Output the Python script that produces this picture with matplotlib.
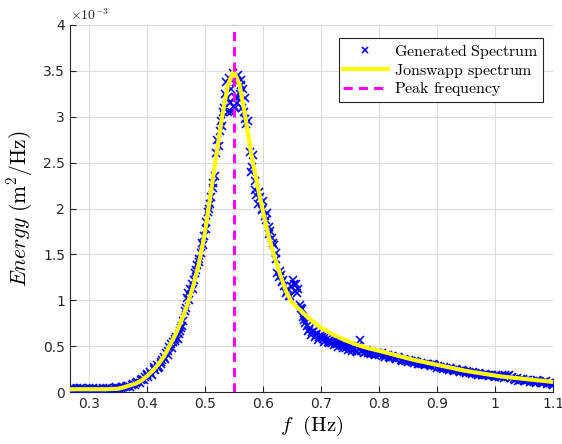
import matplotlib
matplotlib.use("Agg")
import matplotlib.pyplot as plt
from matplotlib.ticker import FuncFormatter, MultipleLocator
import numpy as np

plt.rcParams['mathtext.fontset'] = 'cm'
plt.rcParams['font.family'] = 'DejaVu Sans'

# Jonswap curve (energy in 1e-3 m^2/Hz)
curve_f = [0.268, 0.30, 0.33, 0.35, 0.36, 0.37, 0.38, 0.39, 0.40, 0.41, 0.42, 0.43,
           0.44, 0.45, 0.46, 0.47, 0.48, 0.49, 0.50, 0.51, 0.52, 0.53, 0.54, 0.55,
           0.56, 0.57, 0.58, 0.59, 0.60, 0.61, 0.62, 0.63, 0.64, 0.65, 0.66, 0.67,
           0.68, 0.70, 0.72, 0.74, 0.76, 0.78, 0.80, 0.83, 0.86, 0.89, 0.92, 0.95,
           0.98, 1.01, 1.04, 1.07, 1.10]
curve_E = [0.03, 0.03, 0.03, 0.035, 0.05, 0.07, 0.09, 0.12, 0.17, 0.23, 0.30, 0.39,
           0.51, 0.63, 0.78, 0.95, 1.15, 1.40, 1.72, 2.15, 2.58, 3.00, 3.35, 3.50,
           3.35, 3.00, 2.60, 2.28, 1.98, 1.70, 1.48, 1.28, 1.10, 0.98, 0.92, 0.86,
           0.80, 0.70, 0.63, 0.57, 0.52, 0.48, 0.45, 0.40, 0.35, 0.31, 0.27, 0.23,
           0.20, 0.17, 0.15, 0.13, 0.11]

# generated spectrum samples (two interleaved passes)
gen_f = [0.270, 0.275, 0.280, 0.285, 0.290, 0.295, 0.300, 0.305, 0.310, 0.315,
         0.320, 0.325, 0.330, 0.335, 0.340, 0.345, 0.350, 0.355, 0.360,
         0.364, 0.368, 0.372, 0.376, 0.380, 0.384, 0.388, 0.392, 0.396, 0.400,
         0.403, 0.406, 0.409, 0.412, 0.415, 0.418, 0.421, 0.424, 0.427, 0.430,
         0.433, 0.436, 0.439, 0.442, 0.445, 0.448, 0.451, 0.454, 0.457, 0.460,
         0.463, 0.466, 0.469, 0.472, 0.475, 0.478, 0.481, 0.484, 0.487, 0.490,
         0.493, 0.496, 0.499, 0.502, 0.505, 0.508, 0.511, 0.514, 0.517,
         0.520, 0.522, 0.524, 0.526, 0.528, 0.530, 0.532, 0.534, 0.536, 0.538,
         0.540, 0.542, 0.544, 0.546, 0.548, 0.550, 0.552, 0.554, 0.556, 0.558,
         0.560, 0.562, 0.564, 0.566, 0.568, 0.570, 0.572, 0.575, 0.578, 0.580,
         0.583, 0.586, 0.589, 0.592, 0.595, 0.598, 0.601, 0.604, 0.607, 0.610,
         0.613, 0.616, 0.619, 0.622, 0.625, 0.628, 0.631, 0.634, 0.637, 0.640,
         0.643, 0.646, 0.649, 0.652, 0.655, 0.658, 0.661, 0.664, 0.667, 0.670,
         0.673, 0.676, 0.679, 0.682, 0.685, 0.688, 0.691, 0.694, 0.697, 0.700,
         0.704, 0.708, 0.712, 0.716, 0.720, 0.724, 0.728, 0.732, 0.736, 0.740,
         0.744, 0.748, 0.752, 0.756, 0.760, 0.764, 0.768, 0.772, 0.776, 0.780,
         0.784, 0.788, 0.792, 0.796, 0.800, 0.805, 0.810, 0.815, 0.820, 0.825,
         0.830, 0.835, 0.840, 0.845, 0.850, 0.855, 0.860, 0.865, 0.870, 0.875,
         0.880, 0.885, 0.890, 0.895, 0.900, 0.905, 0.910, 0.915, 0.920, 0.925,
         0.930, 0.935, 0.940, 0.945, 0.950, 0.955, 0.960, 0.965, 0.970, 0.975,
         0.980, 0.985, 0.990, 0.995, 1.000, 1.005, 1.010, 1.015, 1.020, 1.025,
         1.030, 1.035, 1.040, 1.045, 1.050, 1.055, 1.060, 1.065, 1.070, 1.075,
         1.080, 1.085, 1.090, 1.095, 1.100]
gen_E = [0.03, 0.02, 0.04, 0.03, 0.02, 0.03, 0.04, 0.03, 0.02, 0.03,
         0.03, 0.04, 0.03, 0.02, 0.03, 0.04, 0.03, 0.04, 0.05,
         0.05, 0.07, 0.06, 0.09, 0.08, 0.11, 0.10, 0.14, 0.13, 0.18,
         0.16, 0.22, 0.19, 0.25, 0.24, 0.29, 0.27, 0.33, 0.35, 0.38,
         0.42, 0.40, 0.49, 0.52, 0.55, 0.58, 0.60, 0.58, 0.66, 0.70,
         0.77, 0.88, 1.02, 1.08, 1.12, 1.18, 1.22, 1.30, 1.38, 1.45,
         1.52, 1.62, 1.70, 1.78, 1.96, 2.00, 2.12, 2.22, 2.35,
         2.60, 2.75, 2.68, 2.85, 2.95, 2.90, 3.05, 3.10, 3.38, 3.20,
         3.05, 3.42, 3.15, 3.30, 3.48, 3.12, 3.22, 3.38, 3.15, 3.45,
         3.25, 3.40, 3.10, 3.30, 3.05, 3.20, 2.92, 2.95, 2.62, 2.40,
         2.58, 2.30, 2.15, 2.05, 2.12, 1.98, 2.08, 1.92, 1.95, 1.80,
         1.75, 1.68, 1.60, 1.52, 1.30, 1.25, 1.28, 1.20, 1.15, 1.08,
         1.12, 1.05, 1.15, 1.22, 1.10, 1.18, 1.12, 0.95, 0.90, 0.82,
         0.75, 0.72, 0.68, 0.70, 0.65, 0.67, 0.62, 0.64, 0.60, 0.62,
         0.58, 0.60, 0.55, 0.57, 0.53, 0.56, 0.52, 0.54, 0.50, 0.52,
         0.48, 0.50, 0.47, 0.48, 0.45, 0.50, 0.57, 0.46, 0.44, 0.45,
         0.42, 0.44, 0.41, 0.43, 0.40, 0.42, 0.38, 0.40, 0.37, 0.38,
         0.36, 0.37, 0.34, 0.35, 0.33, 0.34, 0.32, 0.33, 0.30, 0.31,
         0.29, 0.30, 0.28, 0.29, 0.26, 0.27, 0.25, 0.26, 0.24, 0.25,
         0.23, 0.24, 0.22, 0.23, 0.21, 0.22, 0.20, 0.21, 0.19, 0.20,
         0.18, 0.19, 0.17, 0.18, 0.16, 0.17, 0.16, 0.15, 0.17, 0.18,
         0.16, 0.13, 0.12, 0.14, 0.12, 0.13, 0.11, 0.12, 0.10, 0.12,
         0.10, 0.11, 0.09, 0.10, 0.08]

gen_f2 = [0.2725, 0.2775, 0.2825, 0.2875, 0.2925, 0.2975, 0.3025, 0.3075, 0.3125,
          0.3175, 0.3225, 0.3275, 0.3325, 0.3375, 0.3425, 0.3475, 0.3525, 0.3575,
          0.366, 0.374, 0.382, 0.390, 0.398, 0.401, 0.407, 0.413, 0.419, 0.425,
          0.431, 0.437, 0.443, 0.449, 0.455, 0.461, 0.467, 0.473, 0.479, 0.485,
          0.491, 0.497, 0.503, 0.509, 0.515,
          0.535, 0.545, 0.553, 0.557, 0.563, 0.569,
          0.5815, 0.5875, 0.5935, 0.5995, 0.6055, 0.6115, 0.6175, 0.6235, 0.6295,
          0.6355, 0.6415, 0.6475, 0.6535, 0.6595, 0.6655, 0.6715, 0.6775, 0.6835,
          0.6895, 0.6955, 0.702, 0.706, 0.710, 0.714, 0.718, 0.722, 0.726, 0.730,
          0.734, 0.738, 0.742, 0.746, 0.750, 0.754, 0.758, 0.762, 0.770, 0.774,
          0.778, 0.782, 0.786, 0.790, 0.794, 0.798,
          0.8025, 0.8075, 0.8125, 0.8175, 0.8225, 0.8275, 0.8325, 0.8375, 0.8425,
          0.8475, 0.8525, 0.8575, 0.8625, 0.8675, 0.8725, 0.8775, 0.8825, 0.8875,
          0.8925, 0.8975, 0.9025, 0.9075, 0.9125, 0.9175, 0.9225, 0.9275, 0.9325,
          0.9375, 0.9425, 0.9475, 0.9525, 0.9575, 0.9625, 0.9675, 0.9725, 0.9775,
          0.9825, 0.9875, 0.9925, 0.9975, 1.0025, 1.0075, 1.0125, 1.0175, 1.0225,
          1.0275, 1.0325, 1.0375, 1.0425, 1.0475, 1.0525, 1.0575, 1.0625, 1.0675,
          1.0725, 1.0775, 1.0825, 1.0875, 1.0925, 1.0975]
gen_E2 = [0.04, 0.03, 0.02, 0.04, 0.03, 0.02, 0.03, 0.04, 0.02,
          0.03, 0.02, 0.03, 0.04, 0.03, 0.02, 0.05, 0.04, 0.06,
          0.07, 0.08, 0.10, 0.13, 0.16, 0.20, 0.20, 0.27, 0.26, 0.31,
          0.36, 0.45, 0.48, 0.56, 0.63, 0.72, 0.92, 1.00, 1.12, 1.33,
          1.42, 1.60, 1.85, 2.05, 2.28,
          3.25, 3.05, 3.10, 3.20, 3.35, 2.98,
          2.45, 2.20, 2.18, 2.00, 1.88, 1.72, 1.62, 1.45, 1.32,
          1.22, 1.10, 1.05, 1.18, 1.08, 0.92, 0.78, 0.66, 0.62,
          0.60, 0.57, 0.60, 0.55, 0.58, 0.53, 0.55, 0.51, 0.53, 0.49,
          0.52, 0.48, 0.50, 0.46, 0.49, 0.45, 0.47, 0.44, 0.45, 0.42,
          0.46, 0.43, 0.41, 0.43, 0.40, 0.42,
          0.41, 0.39, 0.40, 0.38, 0.39, 0.37, 0.38, 0.35, 0.36,
          0.34, 0.35, 0.33, 0.34, 0.31, 0.32, 0.30, 0.31, 0.29,
          0.30, 0.28, 0.28, 0.26, 0.27, 0.25, 0.26, 0.24, 0.25,
          0.23, 0.24, 0.22, 0.23, 0.21, 0.22, 0.20, 0.21, 0.19,
          0.20, 0.18, 0.19, 0.17, 0.18, 0.16, 0.17, 0.19, 0.17,
          0.15, 0.14, 0.15, 0.13, 0.14, 0.12, 0.13, 0.12, 0.11,
          0.13, 0.11, 0.10, 0.12, 0.10, 0.09]

peak_f = 0.551

fig = plt.figure(figsize=(5.62, 4.44), dpi=100)
ax = fig.add_axes([0.1246, 0.1171, 0.8594, 0.8266])

ax.plot(gen_f + gen_f2, gen_E + gen_E2, 'x', color='blue', markersize=5.8,
        markeredgewidth=1.15, label=r'$\mathrm{Generated\ Spectrum}$', zorder=3)
ax.plot(curve_f, curve_E, '-', color=(1, 1, 0), linewidth=3,
        label=r'$\mathrm{Jonswapp\ spectrum}$', zorder=4)
ax.axvline(peak_f, color=(1, 0, 1), linestyle=(0, (3, 2)), linewidth=2.2,
           label=r'$\mathrm{Peak\ frequency}$', zorder=5)

ax.set_xlim(0.268, 1.1)
ax.set_ylim(0, 4)
ax.xaxis.set_major_locator(MultipleLocator(0.1))
ax.yaxis.set_major_locator(MultipleLocator(0.5))
fmt = FuncFormatter(lambda v, p: '%g' % round(v, 3))
ax.xaxis.set_major_formatter(fmt)
ax.yaxis.set_major_formatter(fmt)

ax.grid(True, color='#dcdcdc', linewidth=0.8)
ax.set_axisbelow(True)
for s in ['top', 'right']:
    ax.spines[s].set_visible(False)
for s in ['left', 'bottom']:
    ax.spines[s].set_color('#262626')
    ax.spines[s].set_linewidth(0.8)
ax.tick_params(direction='in', length=4, labelsize=10, colors='#262626')

ax.set_xlabel(r'$f\ \ (\mathrm{Hz})$', fontsize=15, labelpad=2)
ax.set_ylabel(r'$Energy\ (\mathrm{m}^2/\mathrm{Hz})$', fontsize=15.5, labelpad=6)
ax.text(0.0, 1.005, r'$\times10^{-3}$', transform=ax.transAxes, fontsize=10,
        color='#262626', va='bottom', ha='left', family='DejaVu Sans')

leg = ax.legend(loc='upper right', bbox_to_anchor=(0.979, 0.965), fontsize=11.5,
                fancybox=False, framealpha=1, edgecolor='#262626',
                borderpad=0.25, labelspacing=0.05, handlelength=2.8,
                handletextpad=0.4, borderaxespad=0, markerscale=0.75)
leg.get_frame().set_linewidth(0.8)

fig.savefig('out.png', dpi=100)
